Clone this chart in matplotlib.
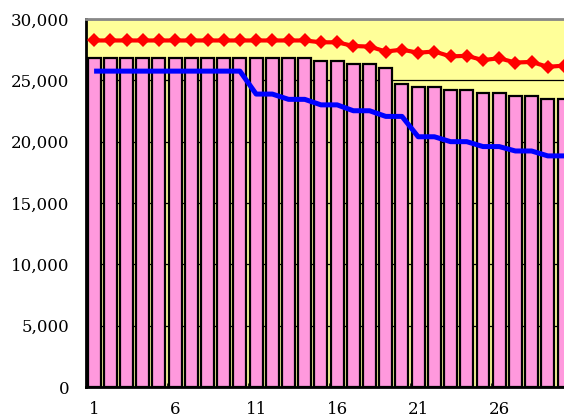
import numpy as np
import matplotlib
matplotlib.use('Agg')
import matplotlib.pyplot as plt
from matplotlib.ticker import FuncFormatter, MultipleLocator, FixedLocator

# 月ごとの値（棒・赤線・青線）
months = list(range(1, 31))
bar_vals = [26850] * 14 + [26580, 26580, 26330, 26330, 26030, 24700, 24430, 24430,
                           24210, 24210, 23970, 23970, 23720, 23720, 23500, 23500]
red_vals = [28250] * 14 + [28100, 28100, 27800, 27750, 27350, 27500, 27250, 27350,
                           26950, 27000, 26650, 26800, 26450, 26500, 26100, 26200]
blue_vals = [25750] * 10 + [23880, 23880, 23450, 23450, 23000, 23000, 22520, 22520,
                            22060, 22060, 20400, 20400, 20000, 20000, 19600, 19600,
                            19240, 19240, 18840, 18840]
x_labels = [1, 6, 11, 16, 21, 26]

plt.rcParams['font.family'] = ['DejaVu Serif']

fig = plt.figure(figsize=(5.64, 4.17), dpi=100)
ax = fig.add_axes([86 / 564, 30 / 417, 1 - 86 / 564, 368 / 417])
ax.set_facecolor('#FFFF99')

ax.bar(months, bar_vals, width=0.8, color='#FF99DD', edgecolor='black', linewidth=1.6, zorder=2)
ax.plot(months, red_vals, color='red', lw=3, marker='D', markersize=7, mew=0, zorder=3)
ax.plot(months, blue_vals, color='blue', lw=3.6, solid_capstyle='butt', zorder=4)

ax.set_xlim(0.5, 30.0)
ax.set_ylim(0, 30000)
ax.yaxis.set_major_locator(MultipleLocator(5000))
ax.yaxis.set_major_formatter(FuncFormatter(lambda v, p: f'{int(v):,}'))
ax.grid(axis='y', color='black', lw=0.9, zorder=1)
ax.set_axisbelow(True)

ax.xaxis.set_major_locator(FixedLocator(x_labels))
ax.xaxis.set_minor_locator(FixedLocator([5.5, 10.5, 15.5, 20.5, 25.5]))
ax.tick_params(axis='x', which='major', length=0, pad=10, labelsize=12)
ax.tick_params(axis='x', which='minor', direction='in', length=3)
ax.tick_params(axis='y', direction='in', length=4, pad=12, labelsize=12)

for s in ['left', 'bottom']:
    ax.spines[s].set_linewidth(2)
    ax.spines[s].set_color('black')
ax.spines['top'].set_linewidth(2)
ax.spines['top'].set_color('#888888')
ax.spines['right'].set_visible(False)

fig.savefig('out.png', dpi=100)
